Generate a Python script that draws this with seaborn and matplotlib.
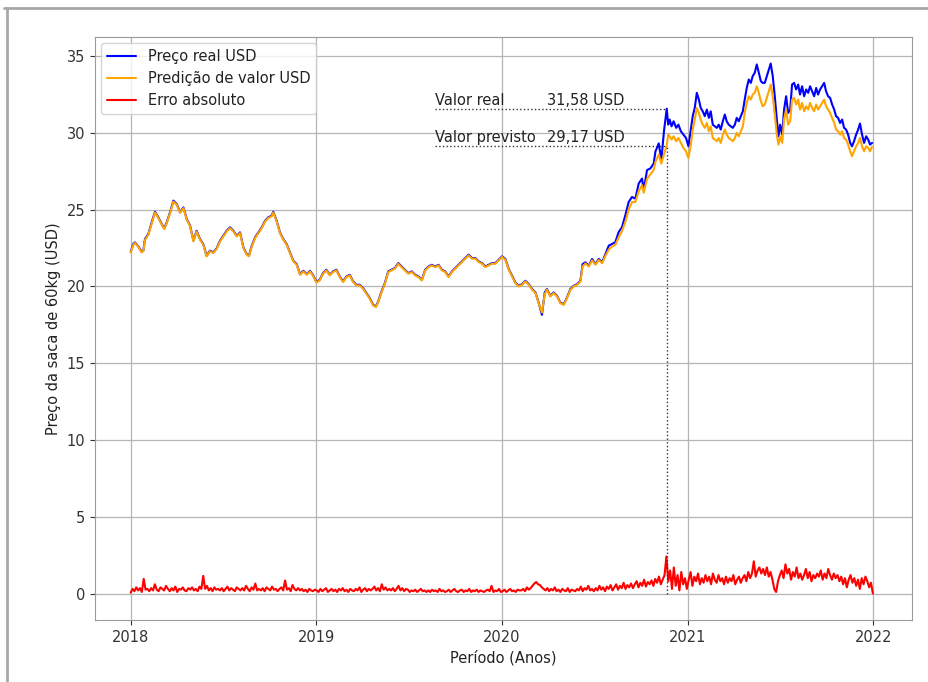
import numpy as np
import pandas as pd
import matplotlib
matplotlib.use("Agg")
import matplotlib.pyplot as plt
import matplotlib.dates as mdates
from matplotlib.lines import Line2D
import seaborn as sns

# ---------------- data ----------------
anos = [
    # 2018
    2018.000, 2018.014, 2018.023, 2018.041, 2018.059, 2018.068, 2018.077, 2018.095, 2018.113, 2018.131,
    2018.149, 2018.167, 2018.181, 2018.194, 2018.212, 2018.230, 2018.248, 2018.266, 2018.284, 2018.302,
    2018.320, 2018.338, 2018.355, 2018.373, 2018.391, 2018.409, 2018.427, 2018.445, 2018.463, 2018.481,
    2018.499, 2018.517, 2018.535, 2018.553, 2018.571, 2018.589, 2018.607, 2018.625, 2018.637, 2018.652,
    2018.670, 2018.688, 2018.706, 2018.724, 2018.741, 2018.759, 2018.768, 2018.786, 2018.804, 2018.822,
    2018.840, 2018.858, 2018.876, 2018.894, 2018.912, 2018.930, 2018.948, 2018.966, 2018.984,
    # 2019
    2019.000, 2019.018, 2019.036, 2019.054, 2019.072, 2019.090, 2019.108, 2019.126, 2019.144, 2019.162,
    2019.180, 2019.198, 2019.216, 2019.234, 2019.252, 2019.270, 2019.288, 2019.306, 2019.321, 2019.333,
    2019.351, 2019.369, 2019.387, 2019.405, 2019.423, 2019.441, 2019.459, 2019.477, 2019.495, 2019.514,
    2019.532, 2019.550, 2019.568, 2019.586, 2019.604, 2019.622, 2019.640, 2019.658, 2019.676, 2019.694,
    2019.712, 2019.730, 2019.748, 2019.766, 2019.784, 2019.802, 2019.820, 2019.838, 2019.856, 2019.874,
    2019.892, 2019.910, 2019.928, 2019.946, 2019.964, 2019.982,
    # 2020
    2020.000, 2020.018, 2020.036, 2020.054, 2020.072, 2020.090, 2020.108, 2020.126, 2020.144, 2020.162,
    2020.180, 2020.197, 2020.215, 2020.230, 2020.242, 2020.260, 2020.278, 2020.296, 2020.314, 2020.332,
    2020.350, 2020.368, 2020.386, 2020.404, 2020.422, 2020.434, 2020.449, 2020.467, 2020.485, 2020.503,
    2020.521, 2020.539, 2020.557, 2020.575, 2020.592, 2020.610, 2020.628, 2020.646, 2020.664, 2020.682,
    2020.700, 2020.718, 2020.736, 2020.754, 2020.763, 2020.781, 2020.799, 2020.817, 2020.826, 2020.844,
    2020.858, 2020.872, 2020.887,
    2020.895, 2020.903, 2020.913, 2020.924, 2020.938, 2020.950, 2020.963, 2020.977, 2020.991,
    # 2021
    2021.004, 2021.017, 2021.027, 2021.038, 2021.049, 2021.060, 2021.070, 2021.081, 2021.092, 2021.103,
    2021.114, 2021.124, 2021.135, 2021.146, 2021.157, 2021.167, 2021.178, 2021.189, 2021.200, 2021.210,
    2021.221, 2021.232, 2021.243, 2021.254, 2021.264, 2021.275, 2021.286, 2021.297, 2021.307, 2021.318,
    2021.329, 2021.340, 2021.350, 2021.361, 2021.372, 2021.383, 2021.394, 2021.404, 2021.415, 2021.426,
    2021.437, 2021.447, 2021.458, 2021.469, 2021.480, 2021.489, 2021.498, 2021.509, 2021.519, 2021.530,
    2021.541, 2021.552, 2021.562, 2021.573, 2021.584, 2021.595, 2021.605, 2021.616, 2021.627, 2021.638,
    2021.649, 2021.659, 2021.670, 2021.681, 2021.692, 2021.702, 2021.713, 2021.724, 2021.735, 2021.745,
    2021.756, 2021.767, 2021.778, 2021.789, 2021.799, 2021.810, 2021.821, 2021.832, 2021.842, 2021.853,
    2021.864, 2021.875, 2021.885, 2021.896, 2021.907, 2021.918, 2021.928, 2021.939, 2021.950, 2021.961,
    2021.972, 2021.982, 2021.993,
]

preco_real = [
    # 2018
    22.26, 22.76, 22.87, 22.61, 22.26, 22.33, 23.09, 23.41, 24.17, 24.87,
    24.50, 24.07, 23.78, 24.17, 24.83, 25.59, 25.37, 24.83, 25.15, 24.39,
    23.96, 22.98, 23.63, 23.09, 22.76, 22.00, 22.33, 22.22, 22.48, 22.98,
    23.30, 23.63, 23.85, 23.63, 23.30, 23.52, 22.54, 22.11, 22.00, 22.65,
    23.20, 23.52, 23.85, 24.28, 24.50, 24.61, 24.87, 24.28, 23.52, 23.09,
    22.76, 22.22, 21.67, 21.46, 20.80, 21.02, 20.80, 21.02, 20.70,
    # 2019
    20.30, 20.43, 20.87, 21.09, 20.76, 20.98, 21.09, 20.65, 20.33, 20.65,
    20.76, 20.33, 20.11, 20.11, 19.89, 19.57, 19.24, 18.80, 18.70, 19.02,
    19.67, 20.22, 20.98, 21.09, 21.20, 21.52, 21.30, 21.09, 20.87, 20.98,
    20.76, 20.65, 20.43, 21.09, 21.30, 21.41, 21.30, 21.41, 21.09, 20.98,
    20.65, 20.98, 21.20, 21.41, 21.63, 21.85, 22.07, 21.85, 21.85, 21.63,
    21.52, 21.30, 21.41, 21.52, 21.52, 21.74,
    # 2020
    21.96, 21.79, 21.14, 20.70, 20.26, 20.04, 20.15, 20.37, 20.15, 19.83,
    19.61, 18.95, 18.15, 19.61, 19.83, 19.39, 19.61, 19.39, 18.95, 18.84,
    19.28, 19.83, 20.04, 20.15, 20.37, 21.46, 21.57, 21.35, 21.79, 21.46,
    21.79, 21.57, 22.12, 22.66, 22.77, 22.88, 23.54, 23.86, 24.63, 25.50,
    25.83, 25.72, 26.70, 27.03, 26.27, 27.58, 27.69, 28.01, 28.78, 29.32,
    28.23, 30.09, 31.58,
    30.54, 30.87, 30.43, 30.76, 30.33, 30.54, 30.11, 29.89, 29.67,
    # 2021
    29.13, 30.22, 31.09, 31.63, 32.61, 32.17, 31.63, 31.41, 31.09, 31.52,
    30.98, 31.41, 30.54, 30.43, 30.33, 30.54, 30.22, 30.76, 31.20, 30.76,
    30.54, 30.43, 30.33, 30.54, 30.98, 30.76, 31.09, 31.41, 32.17, 32.93,
    33.48, 33.26, 33.70, 33.91, 34.46, 33.91, 33.37, 33.26, 33.26, 33.70,
    34.13, 34.52, 33.70, 32.39, 30.87, 29.78, 30.54, 29.89, 31.52, 32.39,
    31.30, 31.52, 33.15, 33.26, 32.83, 33.15, 32.50, 33.04, 32.39, 32.83,
    32.61, 33.04, 32.72, 32.39, 32.93, 32.50, 32.83, 33.04, 33.26, 32.72,
    32.39, 32.28, 31.85, 31.52, 31.09, 30.98, 30.65, 30.87, 30.33, 30.22,
    29.89, 29.35, 29.13, 29.46, 29.89, 30.22, 30.61, 29.89, 29.35, 29.78,
    29.57, 29.24, 29.35,
]

predicao = [
    # 2018
    22.22, 22.70, 22.83, 22.58, 22.22, 22.30, 23.02, 23.36, 24.10, 24.82,
    24.46, 24.03, 23.74, 24.12, 24.78, 25.53, 25.33, 24.79, 25.10, 24.35,
    23.92, 22.94, 23.58, 23.05, 22.72, 21.96, 22.29, 22.18, 22.44, 22.93,
    23.26, 23.58, 23.80, 23.59, 23.26, 23.47, 22.50, 22.07, 21.96, 22.60,
    23.15, 23.47, 23.80, 24.23, 24.45, 24.56, 24.82, 24.24, 23.48, 23.05,
    22.72, 22.18, 21.63, 21.42, 20.76, 20.98, 20.76, 20.98, 20.66,
    # 2019
    20.26, 20.39, 20.82, 21.05, 20.72, 20.94, 21.05, 20.61, 20.29, 20.61,
    20.72, 20.29, 20.07, 20.07, 19.85, 19.53, 19.20, 18.76, 18.66, 18.98,
    19.62, 20.17, 20.93, 21.05, 21.16, 21.47, 21.26, 21.05, 20.83, 20.94,
    20.72, 20.61, 20.39, 21.04, 21.26, 21.37, 21.26, 21.37, 21.05, 20.94,
    20.61, 20.94, 21.16, 21.37, 21.59, 21.81, 22.02, 21.81, 21.81, 21.59,
    21.48, 21.26, 21.37, 21.48, 21.48, 21.70,
    # 2020
    21.92, 21.74, 21.10, 20.66, 20.22, 20.00, 20.11, 20.33, 20.11, 19.79,
    19.57, 18.91, 18.30, 19.50, 19.79, 19.35, 19.57, 19.35, 18.91, 18.80,
    19.24, 19.78, 20.00, 20.11, 20.32, 21.30, 21.50, 21.30, 21.70, 21.42,
    21.72, 21.52, 22.00, 22.40, 22.60, 22.70, 23.20, 23.60, 24.20, 25.00,
    25.50, 25.50, 26.20, 26.60, 26.10, 27.00, 27.30, 27.60, 28.10, 28.60,
    28.00, 28.60, 29.17,
    29.89, 29.78, 29.57, 29.78, 29.46, 29.67, 29.35, 29.02, 28.80,
    # 2021
    28.37, 29.24, 30.22, 30.87, 31.63, 31.30, 30.87, 30.54, 30.33, 30.65,
    30.11, 30.43, 29.67, 29.57, 29.46, 29.67, 29.35, 29.89, 30.22, 29.89,
    29.67, 29.57, 29.46, 29.67, 30.00, 29.78, 30.11, 30.43, 31.30, 31.96,
    32.39, 32.17, 32.50, 32.61, 33.04, 32.61, 32.07, 31.74, 31.85, 32.28,
    32.72, 33.15, 32.39, 31.20, 29.89, 29.24, 29.78, 29.35, 30.87, 31.52,
    30.54, 30.76, 32.17, 32.28, 31.85, 32.17, 31.52, 31.96, 31.41, 31.74,
    31.52, 31.96, 31.63, 31.41, 31.85, 31.52, 31.74, 31.96, 32.17, 31.74,
    31.52, 31.30, 30.98, 30.65, 30.22, 30.11, 29.89, 30.11, 29.67, 29.57,
    29.24, 28.80, 28.48, 28.80, 29.13, 29.35, 29.67, 29.13, 28.80, 29.13,
    29.02, 28.80, 29.10,
]

# absolute error, evenly spaced samples over the period
erro_abs = [
    0.05, 0.30, 0.15, 0.40, 0.20, 0.35, 0.10, 0.95, 0.25, 0.30,   # 2018.0
    0.15, 0.35, 0.20, 0.60, 0.25, 0.15, 0.40, 0.30, 0.20, 0.50,
    0.30, 0.15, 0.35, 0.20, 0.45, 0.10, 0.30, 0.25, 0.40, 0.20,
    0.15, 0.35, 0.25, 0.40, 0.20, 0.30, 0.15, 0.45, 0.30, 1.15,
    0.30, 0.50, 0.20, 0.35, 0.15, 0.40, 0.25, 0.30, 0.20, 0.35,
    0.15, 0.30, 0.45, 0.20, 0.35, 0.25, 0.15, 0.40, 0.30, 0.20,
    0.35, 0.20, 0.50, 0.30, 0.15, 0.40, 0.25, 0.65, 0.20, 0.30,
    0.20, 0.35, 0.15, 0.40, 0.30, 0.20, 0.45, 0.25, 0.30, 0.15,
    0.30, 0.40, 0.20, 0.85, 0.25, 0.35, 0.15, 0.55, 0.30, 0.20,
    0.35, 0.20, 0.30, 0.15, 0.25, 0.10, 0.30, 0.20, 0.15, 0.25,
    0.20, 0.10, 0.30, 0.15, 0.25, 0.35, 0.10, 0.20, 0.30, 0.15,   # 2019.0
    0.25, 0.10, 0.30, 0.20, 0.35, 0.15, 0.25, 0.10, 0.30, 0.20,
    0.15, 0.30, 0.20, 0.40, 0.10, 0.25, 0.35, 0.15, 0.30, 0.20,
    0.30, 0.45, 0.20, 0.35, 0.15, 0.60, 0.25, 0.40, 0.20, 0.30,
    0.20, 0.35, 0.15, 0.30, 0.50, 0.20, 0.35, 0.15, 0.30, 0.25,
    0.10, 0.20, 0.15, 0.25, 0.10, 0.20, 0.30, 0.15, 0.20, 0.10,
    0.20, 0.10, 0.25, 0.15, 0.20, 0.10, 0.30, 0.15, 0.20, 0.10,
    0.15, 0.25, 0.10, 0.20, 0.30, 0.15, 0.10, 0.20, 0.25, 0.10,
    0.20, 0.15, 0.30, 0.10, 0.20, 0.15, 0.25, 0.10, 0.20, 0.15,
    0.10, 0.20, 0.25, 0.15, 0.50, 0.10, 0.20, 0.15, 0.30, 0.10,
    0.15, 0.25, 0.10, 0.20, 0.30, 0.15, 0.20, 0.10, 0.25, 0.20,   # 2020.0
    0.20, 0.30, 0.15, 0.40, 0.25, 0.35, 0.50, 0.65, 0.75, 0.60,
    0.55, 0.40, 0.30, 0.20, 0.35, 0.15, 0.30, 0.20, 0.40, 0.15,
    0.25, 0.10, 0.30, 0.20, 0.15, 0.35, 0.10, 0.25, 0.20, 0.15,
    0.30, 0.20, 0.45, 0.15, 0.35, 0.25, 0.50, 0.20, 0.30, 0.15,
    0.35, 0.20, 0.50, 0.25, 0.40, 0.15, 0.45, 0.30, 0.55, 0.20,
    0.40, 0.60, 0.25, 0.50, 0.35, 0.70, 0.30, 0.55, 0.40, 0.65,
    0.35, 0.60, 0.80, 0.40, 0.70, 0.50, 0.90, 0.45, 0.75, 0.60,
    0.85, 0.50, 0.95, 0.70, 1.10, 0.60, 0.90, 1.20, 2.41, 0.80,
    1.50, 0.30, 1.70, 0.50, 1.20, 0.20, 1.40, 0.60, 1.00, 0.30,
    0.90, 1.40, 0.50, 1.10, 0.80, 1.30, 0.60, 1.00, 0.70, 1.20,   # 2021.0
    0.80, 1.10, 0.60, 1.30, 0.90, 0.70, 1.20, 0.80, 1.00, 0.60,
    1.10, 0.70, 1.00, 0.80, 1.20, 0.60, 0.90, 1.10, 0.70, 1.00,
    1.20, 0.80, 1.40, 1.00, 1.30, 2.10, 1.10, 1.50, 1.70, 1.30,
    1.60, 1.20, 1.70, 1.10, 1.40, 0.90, 0.30, 0.10, 0.80, 1.20,
    1.50, 1.00, 1.90, 1.30, 1.60, 0.90, 1.40, 1.10, 1.70, 1.00,
    1.30, 0.90, 1.20, 1.60, 1.00, 1.40, 0.80, 1.20, 1.00, 1.30,
    1.10, 1.50, 0.90, 1.30, 1.00, 1.60, 1.20, 0.90, 1.30, 1.00,
    1.20, 0.80, 1.10, 0.60, 1.00, 0.40, 0.90, 1.20, 0.70, 1.00,
    0.50, 0.90, 0.30, 1.00, 0.60, 1.10, 0.80, 0.40, 0.70, 0.00,
]

data_pico = 2020.887
valor_real = 31.58
valor_previsto = 29.17
texto_inicio = 2019.64
texto_fim = 2020.660
rotulos = ["Preço real USD", "Predição de valor USD", "Erro absoluto"]
limites_x = (2017.808, 2022.208)


def ano_para_data(a):
    a = np.asarray(a, dtype=float)
    return pd.Timestamp("2018-01-01") + pd.to_timedelta((a - 2018.0) * 365.25, unit="D")


datas = ano_para_data(anos)
datas_erro = pd.date_range("2018-01-01", "2021-12-31", periods=len(erro_abs))

df = pd.DataFrame({"data": datas, "real": preco_real, "pred": predicao})
df_err = pd.DataFrame({"data": datas_erro, "erro": erro_abs})

# ---------------- style ----------------
sns.set_style("whitegrid", {
    "grid.color": "#b5b5b5",
    "axes.edgecolor": "#9a9a9a",
    "axes.linewidth": 1.2,
    "xtick.bottom": True,
    "ytick.left": True,
    "xtick.color": "#333333",
    "ytick.color": "#333333",
})
plt.rcParams["font.family"] = ["DejaVu Sans"]
plt.rcParams["text.color"] = "#222222"
plt.rcParams["axes.labelcolor"] = "#222222"

fig = plt.figure(figsize=(9.29, 6.82), dpi=100)
ax = fig.add_axes([0.1023, 0.0909, 0.8794, 0.8548])

sns.lineplot(data=df, x="data", y="real", color="blue", lw=1.5, label=rotulos[0], ax=ax)
sns.lineplot(data=df, x="data", y="pred", color="orange", lw=1.5, label=rotulos[1], ax=ax)
sns.lineplot(data=df_err, x="data", y="erro", color="red", lw=1.5, label=rotulos[2], ax=ax)

ax.grid(True, color="#b5b5b5", lw=0.9)

# annotation (dotted guides)
d_pico = ano_para_data([data_pico])[0]
d_txt = ano_para_data([texto_inicio])[0]
d_fim = ano_para_data([texto_fim])[0]
ax.plot([d_txt, d_pico], [valor_real, valor_real], ls=":", color="#333333", lw=1.0)
ax.plot([d_txt, d_pico], [valor_previsto, valor_previsto], ls=":", color="#333333", lw=1.0)
ax.plot([d_pico, d_pico], [0, valor_previsto], ls=":", color="#333333", lw=1.0)

fs = 10.5
ax.text(d_txt, valor_real + 0.05, "Valor real", fontsize=fs, va="bottom", ha="left")
ax.text(d_fim, valor_real + 0.05, "31,58 USD", fontsize=fs, va="bottom", ha="right")
ax.text(d_txt, valor_previsto + 0.05, "Valor previsto", fontsize=fs, va="bottom", ha="left")
ax.text(d_fim, valor_previsto + 0.05, "29,17 USD", fontsize=fs, va="bottom", ha="right")

ax.set_xlabel("Período (Anos)", fontsize=10.5)
ax.set_ylabel("Preço da saca de 60kg (USD)", fontsize=10.5)
ax.tick_params(labelsize=10.5, length=3.5, width=0.8)

ax.xaxis.set_major_locator(mdates.YearLocator())
ax.xaxis.set_major_formatter(mdates.DateFormatter("%Y"))
ax.set_xlim(ano_para_data([limites_x[0]])[0], ano_para_data([limites_x[1]])[0])
ax.set_yticks([0, 5, 10, 15, 20, 25, 30, 35])

ax.legend(loc="upper left", fontsize=10.5, frameon=True, framealpha=0.8,
          edgecolor="#cccccc", borderaxespad=0.4)

# outer frame of the screenshot
fig.add_artist(Line2D([0.004, 1.0], [0.988, 0.988], transform=fig.transFigure, color="#a8a8a8", lw=2))
fig.add_artist(Line2D([0.0075, 0.0075], [0.0, 0.988], transform=fig.transFigure, color="#a8a8a8", lw=2))

fig.savefig("out.png", dpi=100)
